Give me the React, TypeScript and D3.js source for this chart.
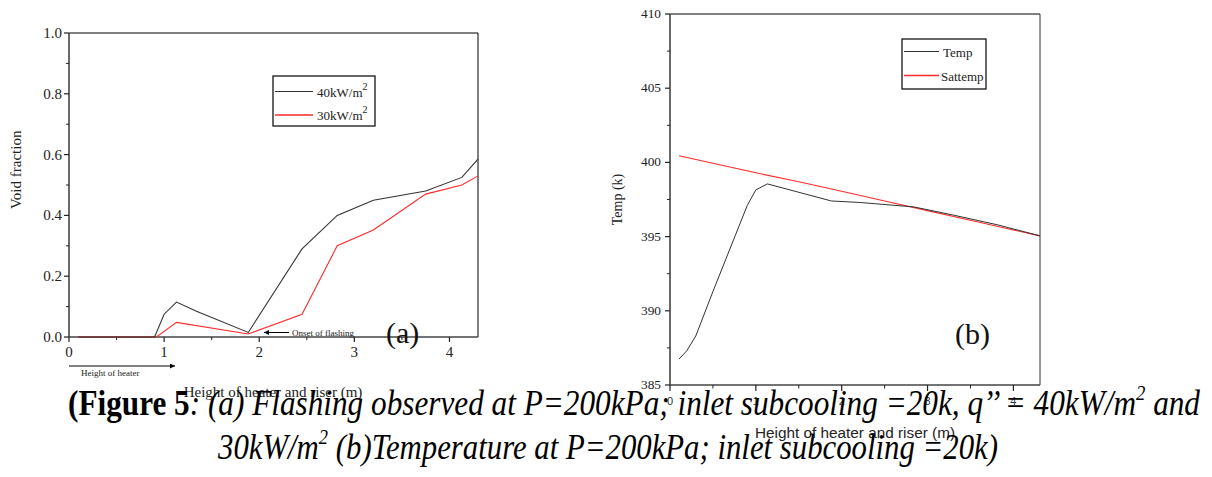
import React from "react";
import * as d3 from "d3";

// ---- Panel (a) data ----
const heightA40 = [0.1, 0.9, 1.0, 1.13, 1.34, 1.885, 2.45, 2.82, 3.2, 3.75, 4.13, 4.3];
const void40 = [0, 0, 0.075, 0.115, 0.085, 0.015, 0.29, 0.4, 0.45, 0.48, 0.525, 0.585];
const heightA30 = [0.1, 0.92, 1.13, 1.885, 2.45, 2.82, 3.2, 3.75, 4.13, 4.3];
const void30 = [0, 0, 0.048, 0.01, 0.075, 0.3, 0.352, 0.47, 0.5, 0.53];
const yTicksA = [0, 0.2, 0.4, 0.6, 0.8, 1.0];
const yMinorA = [0.1, 0.3, 0.5, 0.7, 0.9];
const xTicks = [0, 1, 2, 3, 4];
const xMinor = [0.5, 1.5, 2.5, 3.5];
const legendA = ["40kW/m", "30kW/m"];

// ---- Panel (b) data ----
const heightTemp = [0.105, 0.195, 0.3, 0.5, 0.9, 1.0, 1.135, 1.88, 2.21, 2.84, 3.3, 3.81, 4.31];
const temp = [386.75, 387.3, 388.3, 391.3, 397.1, 398.15, 398.55, 397.4, 397.3, 397.0, 396.45, 395.8, 395.05];
const heightSat = [0.105, 1.0, 1.5, 2.0, 2.5, 3.0, 3.5, 4.0, 4.31];
const satTemp = [400.45, 399.3, 398.7, 398.05, 397.4, 396.75, 396.1, 395.45, 395.05];
const yTicksB = [385, 390, 395, 400, 405, 410];
const yMinorB = [387.5, 392.5, 397.5, 402.5, 407.5];
const legendB = ["Temp", "Sattemp"];

const SERIF = "'Liberation Serif', 'Times New Roman', serif";
const SANS = "'Liberation Sans', Arial, sans-serif";
const BLK = "#333";
const RED = "#ff2a2a";

export default function App() {
  // Panel (a) scales
  const xA = d3.scaleLinear().domain([0, 4.3]).range([69, 478]);
  const yA = d3.scaleLinear().domain([0, 1]).range([337, 33]);
  const lineA = d3.line<[number, number]>().x((d) => xA(d[0])).y((d) => yA(d[1]));
  const s40 = lineA(heightA40.map((h, i) => [h, void40[i]]) as [number, number][]) || "";
  const s30 = lineA(heightA30.map((h, i) => [h, void30[i]]) as [number, number][]) || "";

  // Panel (b) scales
  const xB = d3.scaleLinear().domain([0, 4.31]).range([670, 1040]);
  const yB = d3.scaleLinear().domain([385, 410]).range([385, 14]);
  const lineB = d3.line<[number, number]>().x((d) => xB(d[0])).y((d) => yB(d[1]));
  const sT = lineB(heightTemp.map((h, i) => [h, temp[i]]) as [number, number][]) || "";
  const sS = lineB(heightSat.map((h, i) => [h, satTemp[i]]) as [number, number][]) || "";

  return (
    <svg width={1212} height={477} style={{ position: "absolute", left: 0, top: 0, background: "#fff" }}>
      <defs>
        <marker id="arr" viewBox="0 0 10 10" refX="10" refY="5" markerWidth="7" markerHeight="5" orient="auto-start-reverse">
          <path d="M0,0 L10,5 L0,10 z" fill="#000" />
        </marker>
      </defs>

      {/* ===== Panel (a) ===== */}
      <g>
        <line x1={xA(0)} x2={xA(4.3)} y1={yA(1)} y2={yA(1)} stroke="#000" strokeWidth={1} />
        <line x1={xA(4.3)} x2={xA(4.3)} y1={yA(1)} y2={yA(0)} stroke="#000" strokeWidth={1} />
        <line x1={xA(0)} x2={xA(0)} y1={yA(1)} y2={yA(0)} stroke="#444" strokeWidth={1.6} />
        <line x1={xA(0)} x2={xA(4.3)} y1={yA(0)} y2={yA(0)} stroke="#444" strokeWidth={1.6} />
        {yTicksA.map((t) => (
          <g key={"ya" + t}>
            <line x1={xA(0) - 5} x2={xA(0)} y1={yA(t)} y2={yA(t)} stroke="#222" strokeWidth={1.2} />
            <text x={xA(0) - 7} y={yA(t) + 5} textAnchor="end" fontFamily={SERIF} fontSize={15} fill="#222">
              {t.toFixed(1)}
            </text>
          </g>
        ))}
        {yMinorA.map((t) => (
          <line key={"yam" + t} x1={xA(0) - 3} x2={xA(0)} y1={yA(t)} y2={yA(t)} stroke="#222" strokeWidth={1} />
        ))}
        {xTicks.map((t) => (
          <g key={"xa" + t}>
            <line x1={xA(t)} x2={xA(t)} y1={yA(0)} y2={yA(0) + 5} stroke="#222" strokeWidth={1.2} />
            <text x={xA(t)} y={357} textAnchor="middle" fontFamily={SERIF} fontSize={15} fill="#222">
              {t}
            </text>
          </g>
        ))}
        {xMinor.map((t) => (
          <line key={"xam" + t} x1={xA(t)} x2={xA(t)} y1={yA(0)} y2={yA(0) + 3} stroke="#222" strokeWidth={1} />
        ))}
        <path d={s30} fill="none" stroke={RED} strokeWidth={1.1} />
        <path d={s40} fill="none" stroke={BLK} strokeWidth={1.1} />

        <text transform={`translate(21,${yA(0.55)}) rotate(-90)`} textAnchor="middle" fontFamily={SERIF} fontSize={15} fill="#222">
          Void fraction
        </text>
        <text x={273} y={397} textAnchor="middle" fontFamily={SERIF} fontSize={15} fill="#222">
          Height of heater and riser (m)
        </text>

        <rect x={273} y={76} width={102} height={50} fill="#fff" stroke="#000" strokeWidth={1.2} />
        <line x1={275} x2={313} y1={91.5} y2={91.5} stroke={BLK} strokeWidth={1.1} />
        <line x1={275} x2={313} y1={115} y2={115} stroke={RED} strokeWidth={1.3} />
        {legendA.map((l, i) => (
          <text key={l} x={317} y={96.5 + i * 23.5} fontFamily={SERIF} fontSize={13} fill="#222">
            {l}
            <tspan dy={-7} fontSize={10}>2</tspan>
          </text>
        ))}

        <line x1={289} x2={264} y1={332.5} y2={332.5} stroke="#000" strokeWidth={1} markerEnd="url(#arr)" />
        <text x={292} y={335.5} fontFamily={SERIF} fontSize={9} fill="#222">Onset of flashing</text>
        <line x1={69} x2={175} y1={366} y2={366} stroke="#000" strokeWidth={1} markerEnd="url(#arr)" />
        <text x={81} y={376} fontFamily={SERIF} fontSize={9} fill="#222">Height of heater</text>
        <text x={386} y={343} fontFamily={SERIF} fontSize={30} fill="#111">(a)</text>
      </g>

      {/* ===== Panel (b) ===== */}
      <g>
        <line x1={xB(0)} x2={1040} y1={yB(410)} y2={yB(410)} stroke="#000" strokeWidth={1} />
        <line x1={1040} x2={1040} y1={yB(410)} y2={yB(385)} stroke="#333" strokeWidth={1} />
        <line x1={xB(0)} x2={xB(0)} y1={yB(410)} y2={yB(385)} stroke="#444" strokeWidth={1.6} />
        <line x1={xB(0)} x2={1040} y1={yB(385)} y2={yB(385)} stroke="#444" strokeWidth={1.6} />
        {yTicksB.map((t) => (
          <g key={"yb" + t}>
            <line x1={xB(0) - 5} x2={xB(0)} y1={yB(t)} y2={yB(t)} stroke="#222" strokeWidth={1.2} />
            <text x={xB(0) - 9} y={yB(t) + 4} textAnchor="end" fontFamily={SERIF} fontSize={13} fill="#222" textLength={20} lengthAdjust="spacingAndGlyphs">
              {t}
            </text>
          </g>
        ))}
        {yMinorB.map((t) => (
          <line key={"ybm" + t} x1={xB(0) - 3} x2={xB(0)} y1={yB(t)} y2={yB(t)} stroke="#222" strokeWidth={1} />
        ))}
        {xTicks.map((t) => (
          <g key={"xb" + t}>
            <line x1={xB(t)} x2={xB(t)} y1={yB(385)} y2={yB(385) + 6} stroke="#222" strokeWidth={1.2} />
            <text x={xB(t)} y={405} textAnchor="middle" fontFamily={SANS} fontSize={11} fill="#333">
              {t}
            </text>
          </g>
        ))}
        {xMinor.map((t) => (
          <line key={"xbm" + t} x1={xB(t)} x2={xB(t)} y1={yB(385)} y2={yB(385) + 3.5} stroke="#222" strokeWidth={1} />
        ))}
        <path d={sS} fill="none" stroke={RED} strokeWidth={1.1} />
        <path d={sT} fill="none" stroke={BLK} strokeWidth={1} />

        <text transform={`translate(622,${yB(397.5)}) rotate(-90)`} textAnchor="middle" fontFamily={SERIF} fontSize={14} fill="#222">
          Temp (k)
        </text>
        <text x={855} y={438} textAnchor="middle" fontFamily={SANS} fontSize={14} fill="#222" textLength={200} lengthAdjust="spacingAndGlyphs">
          Height of heater and riser (m)
        </text>

        <rect x={902} y={39} width={84} height={50} fill="#fff" stroke="#000" strokeWidth={1.2} />
        <line x1={904} x2={939} y1={51.5} y2={51.5} stroke={BLK} strokeWidth={1.1} />
        <line x1={904} x2={939} y1={75.5} y2={75.5} stroke={RED} strokeWidth={1.3} />
        {legendB.map((l, i) => (
          <text key={l} x={i === 0 ? 943 : 941} y={57 + i * 24} fontFamily={SERIF} fontSize={13} fill="#222">
            {l}
          </text>
        ))}
        <text x={955} y={344} fontFamily={SERIF} fontSize={30} fill="#111">(b)</text>
      </g>

      {/* ===== Caption ===== */}
      <text x={68} y={415} fontFamily={SERIF} fontSize={35} fill="#000" textLength={1132} lengthAdjust="spacingAndGlyphs">
        <tspan fontWeight="bold">(Figure 5</tspan>
        <tspan fontStyle="italic">: (a) Flashing observed at P=200kPa; inlet subcooling =20k, q’’ = 40kW/m</tspan>
        <tspan fontStyle="italic" fontSize={21} dy={-15}>2</tspan>
        <tspan fontStyle="italic" dy={15}> and</tspan>
      </text>
      <text x={218} y={459} fontFamily={SERIF} fontSize={35} fill="#000" textLength={780} lengthAdjust="spacingAndGlyphs">
        <tspan fontStyle="italic">30kW/m</tspan>
        <tspan fontStyle="italic" fontSize={21} dy={-15}>2</tspan>
        <tspan fontStyle="italic" dy={15}> (b)Temperature at P=200kPa; inlet subcooling =20k)</tspan>
      </text>
    </svg>
  );
}
